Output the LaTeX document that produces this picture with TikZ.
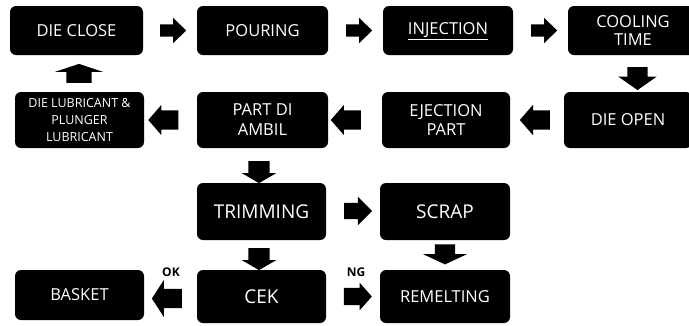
\documentclass[tikz,border=0pt]{standalone}
\usepackage{fontspec}
\setmainfont{Open Sans}
\usetikzlibrary{shapes.arrows}
\begin{document}
\begin{tikzpicture}[x=1pt,y=-1pt,
  box/.style={fill=black, rounded corners=6pt, inner sep=0pt, text=white, align=center,
    font=\fontsize{16.5}{18.5}\selectfont},
  bigbox/.style={box, font=\fontsize{19}{22}\selectfont},
  smallbox/.style={box, font=\fontsize{12.5}{16.7}\selectfont},
  % length, shaft width, head extend, tip angle, rotation
  barrow/.style n args={5}{single arrow, fill=black, draw=none, inner xsep=0pt,
    inner ysep=#2/2, outer sep=0pt, minimum height=#1, minimum width=0pt,
    single arrow head extend=#3, single arrow tip angle=#4, rotate=#5},
  lab/.style={font=\bfseries\fontsize{12}{14}\selectfont, text=black, inner sep=0pt}
]
\useasboundingbox (0,0) rectangle (689,325);
\fill[white] (0,0) rectangle (689,325);
\begin{scope}
\clip (0,0) rectangle (689,325);
% boxes
\node[box, minimum width=133pt, minimum height=49pt] (dieclose) at (76.5,30.5) {DIE CLOSE};
\node[box, minimum width=131pt, minimum height=49pt] (pouring) at (262.5,30.5) {POURING};
\node[box, minimum width=130pt, minimum height=49pt] (injection) at (448,30.5) {\smash{\underline{INJECTION}}\vphantom{INJECTION}};
\node[box, minimum width=130pt, minimum height=49pt] (cooling) at (633,30.5) {COOLING\\TIME};
\node[smallbox, minimum width=129pt, minimum height=56pt] (lub) at (79.5,120) {DIE LUBRICANT \&\\PLUNGER\\LUBRICANT};
\node[box, minimum width=131pt, minimum height=56pt, font=\fontsize{16.5}{20}\selectfont] (ambil) at (262.5,120) {PART DI\\AMBIL};
\node[box, minimum width=128pt, minimum height=56pt] (ejection) at (446,120) {EJECTION\\PART};
\node[box, minimum width=128pt, minimum height=56pt] (dieopen) at (628,120) {DIE OPEN};
\node[bigbox, minimum width=129pt, minimum height=57pt] (trimming) at (261.5,211.5) {TRIMMING};
\node[bigbox, minimum width=130pt, minimum height=57pt] (scrap) at (445,211.5) {SCRAP};
\node[box, minimum width=129pt, minimum height=50pt] (basket) at (79.5,295) {BASKET};
\node[bigbox, minimum width=129pt, minimum height=53pt] (cek) at (261.5,296.5) {CEK};
\node[box, minimum width=130pt, minimum height=53pt] (remelting) at (445,296.5) {REMELTING};
\end{scope}
% block arrows
\tikzset{
  rowone/.style={barrow={26pt}{12pt}{6.5pt}{88}{0}},
  rowtwo/.style={barrow={30pt}{19pt}{5.5pt}{98}{180}},
  downmid/.style={barrow={22pt}{21pt}{6.5pt}{120}{-90}},
}
\node[rowone] (a1) at (170,30.5) {};
\node[rowone] (a2) at (356,30.5) {};
\node[rowone] (a3) at (541,30.5) {};
\node[barrow={23pt}{20pt}{9pt}{110}{-90}] (a4) at (637.5,75) {};
\node[rowtwo] (a5) at (539,120) {};
\node[rowtwo] (a6) at (350,120) {};
\node[rowtwo] (a7) at (167.5,120) {};
\node[barrow={19pt}{25pt}{11.5pt}{143}{90}] (a8) at (79,75.5) {};
\node[downmid] (a9) at (259,169) {};
\node[barrow={28pt}{16pt}{6pt}{90}{0}] (a10) at (354,211) {};
\node[barrow={20pt}{20pt}{12pt}{130}{-90}] (a11) at (445,252) {};
\node[downmid] (a12) at (259,256) {};
\node[barrow={30pt}{19pt}{9pt}{114}{180}] (a13) at (170,298.5) {};
\node[barrow={28pt}{17pt}{5pt}{97}{0}] (a14) at (354,296.5) {};
% labels
\node[lab] (ok) at (171,272) {OK};
\node[lab] (ng) at (356,272) {NG};
\end{tikzpicture}
\end{document}
